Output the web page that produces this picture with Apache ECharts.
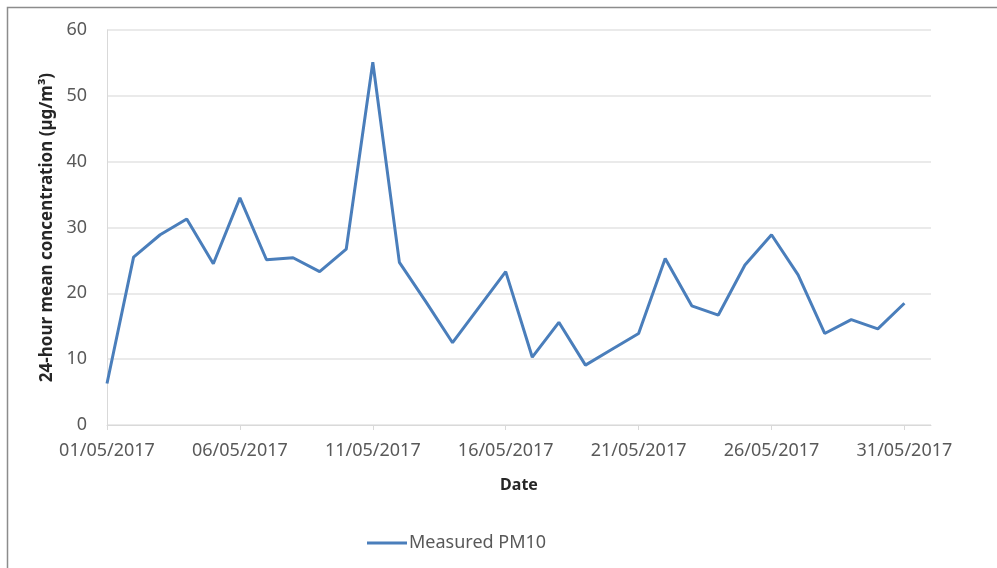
<!DOCTYPE html>
<html>
<head>
<meta charset="utf-8">
<script src="https://cdn.jsdelivr.net/npm/echarts@6/dist/echarts.min.js"></script>
<style>
html,body{margin:0;padding:0;background:#fff;}
#chart{width:997px;height:568px;}
</style>
</head>
<body>
<div id="chart"></div>
<script>
// Axis categories: days of May 2017 plus the closing date of the axis (01/06/2017)
const dates = [
  '01/05/2017','02/05/2017','03/05/2017','04/05/2017','05/05/2017','06/05/2017','07/05/2017','08/05/2017',
  '09/05/2017','10/05/2017','11/05/2017','12/05/2017','13/05/2017','14/05/2017','15/05/2017','16/05/2017',
  '17/05/2017','18/05/2017','19/05/2017','20/05/2017','21/05/2017','22/05/2017','23/05/2017','24/05/2017',
  '25/05/2017','26/05/2017','27/05/2017','28/05/2017','29/05/2017','30/05/2017','31/05/2017','01/06/2017'
];
// Measured PM10, 24-hour mean (µg/m³)
const pm10 = [
  6.3, 25.5, 28.9, 31.3, 24.5, 34.5, 25.1, 25.4, 23.3, 26.7,
  55.1, 24.7, 18.7, 12.5, 17.9, 23.3, 10.3, 15.6, 9.1, 11.5,
  13.9, 25.3, 18.1, 16.7, 24.3, 28.9, 22.8, 13.9, 16.0, 14.6, 18.5
];
const yTicks = [0, 10, 20, 30, 40, 50, 60];

const chart = echarts.init(document.getElementById('chart'));
const labelColor = '#595959';
chart.setOption({
  animation: false,
  backgroundColor: '#ffffff',
  graphic: [{
    type: 'rect',
    shape: {x: 7.5, y: 7.5, width: 1000, height: 600},
    style: {fill: 'none', stroke: '#8c8c8c', lineWidth: 1.5},
    silent: true
  }],
  grid: {left: 107, right: 66, top: 30, bottom: 143, containLabel: false},
  xAxis: {
    type: 'category',
    data: dates,
    boundaryGap: false,
    name: 'Date',
    nameLocation: 'middle',
    nameGap: 52,
    nameTextStyle: {fontFamily: 'Noto Sans', fontSize: 16, fontWeight: 'bold', color: '#262626'},
    axisLine: {show: true, lineStyle: {color: '#d9d9d9', width: 1}},
    axisTick: {show: true, interval: 4, length: 5, lineStyle: {color: '#d9d9d9'}},
    axisLabel: {interval: 4, margin: 17, fontFamily: 'Noto Sans', fontSize: 18, color: labelColor},
    splitLine: {show: false}
  },
  yAxis: {
    type: 'value',
    min: yTicks[0],
    max: yTicks[yTicks.length - 1],
    interval: 10,
    name: '24-hour mean concentration (µg/m³)',
    nameLocation: 'middle',
    nameGap: 48,
    nameTextStyle: {fontFamily: 'Noto Sans', fontSize: 17, fontWeight: 'bold', color: '#262626'},
    axisLine: {show: true, lineStyle: {color: '#d9d9d9', width: 1}},
    axisTick: {show: false},
    axisLabel: {margin: 20, fontFamily: 'Noto Sans', fontSize: 18, color: labelColor},
    splitLine: {show: true, lineStyle: {color: '#e3e3e3', width: 1.5}}
  },
  legend: {
    data: [{name: 'Measured PM10', icon: 'rect'}],
    left: 362,
    top: 529,
    itemWidth: 40,
    itemHeight: 3,
    textStyle: {fontFamily: 'Noto Sans', fontSize: 18, color: labelColor, padding: [0, 0, 0, -3]}
  },
  series: [{
    name: 'Measured PM10',
    type: 'line',
    data: pm10,
    showSymbol: false,
    symbol: 'none',
    lineStyle: {color: '#4a7ebb', width: 3},
    itemStyle: {color: '#4a7ebb'}
  }]
});
</script>
</body>
</html>
